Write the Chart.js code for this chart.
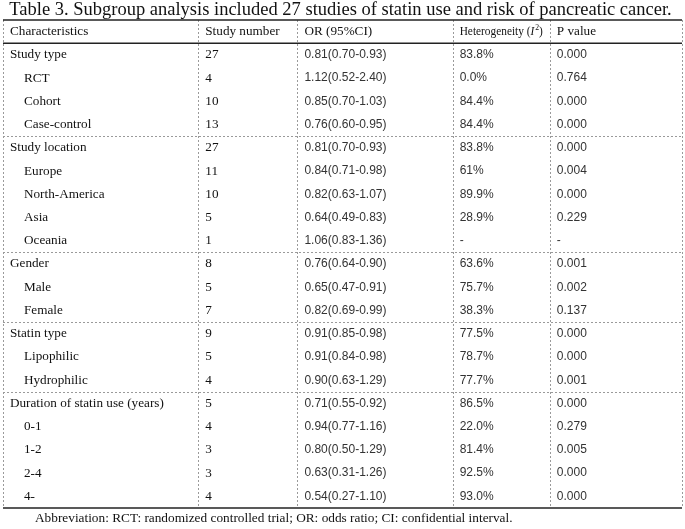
<!DOCTYPE html>
<html lang="en">
<head>
  <meta charset="UTF-8">
  <title>Table 3. Subgroup analysis</title>
  <script src="https://cdn.jsdelivr.net/npm/chart.js"></script>
  <style>
    body { margin: 0; background: #ffffff; }
    #wrap { width: 685px; height: 529px; }
  </style>
</head>
<body>
  <div id="wrap"><canvas id="tableChart"></canvas></div>

  <script>
    // Table content
    const titleText = 'Table 3. Subgroup analysis included 27 studies of statin use and risk of pancreatic cancer.';
    const footnote = 'Abbreviation: RCT: randomized controlled trial; OR: odds ratio; CI: confidential interval.';
    const headers = ['Characteristics', 'Study number', 'OR (95%CI)', 'Heterogeneity (I2)', 'P value'];
    const colWidths = [195, 99, 155, 97, 132];

    const characteristics = ['Study type', 'RCT', 'Cohort', 'Case-control',
      'Study location', 'Europe', 'North-America', 'Asia', 'Oceania',
      'Gender', 'Male', 'Female',
      'Statin type', 'Lipophilic', 'Hydrophilic',
      'Duration of statin use (years)', '0-1', '1-2', '2-4', '4-'];
    const isGroup = [1, 0, 0, 0, 1, 0, 0, 0, 0, 1, 0, 0, 1, 0, 0, 1, 0, 0, 0, 0];
    const studyNumber = ['27', '4', '10', '13', '27', '11', '10', '5', '1', '8', '5', '7', '9', '5', '4', '5', '4', '3', '3', '4'];
    const orCI = ['0.81(0.70-0.93)', '1.12(0.52-2.40)', '0.85(0.70-1.03)', '0.76(0.60-0.95)',
      '0.81(0.70-0.93)', '0.84(0.71-0.98)', '0.82(0.63-1.07)', '0.64(0.49-0.83)', '1.06(0.83-1.36)',
      '0.76(0.64-0.90)', '0.65(0.47-0.91)', '0.82(0.69-0.99)',
      '0.91(0.85-0.98)', '0.91(0.84-0.98)', '0.90(0.63-1.29)',
      '0.71(0.55-0.92)', '0.94(0.77-1.16)', '0.80(0.50-1.29)', '0.63(0.31-1.26)', '0.54(0.27-1.10)'];
    const heterogeneity = ['83.8%', '0.0%', '84.4%', '84.4%',
      '83.8%', '61%', '89.9%', '28.9%', '-',
      '63.6%', '75.7%', '38.3%',
      '77.5%', '78.7%', '77.7%',
      '86.5%', '22.0%', '81.4%', '92.5%', '93.0%'];
    const pValue = ['0.000', '0.764', '0.000', '0.000',
      '0.000', '0.004', '0.000', '0.229', '-',
      '0.001', '0.002', '0.137',
      '0.000', '0.000', '0.001',
      '0.000', '0.279', '0.005', '0.000', '0.000'];

    const serif = '"Liberation Serif", "DejaVu Serif", serif';
    const sans = '"Liberation Sans", Arial, sans-serif';

    // column start positions on the x scale
    const colStarts = [];
    let acc = 0;
    colWidths.forEach(w => { colStarts.push(acc); acc += w; });
    const totalWidth = acc;

    const rowLabels = ['header'].concat(characteristics.map((c, i) => 'r' + i));
    const columns = [characteristics, studyNumber, orCI, heterogeneity, pValue];

    // one dataset per column, one point per cell
    const datasets = columns.map((col, j) => ({
      label: headers[j],
      data: [{ x: colStarts[j], y: 'header', text: headers[j], head: true }].concat(
        col.map((t, i) => ({ x: colStarts[j], y: 'r' + i, text: t, indent: j === 0 && !isGroup[i] }))
      ),
      pointRadius: 0,
      showLine: false
    }));

    const tablePlugin = {
      id: 'tablePlugin',
      afterDraw(chart) {
        const ctx = chart.ctx;
        const area = chart.chartArea;
        const x = chart.scales.x;
        const y = chart.scales.y;
        const rowH = y.getPixelForValue(1) - y.getPixelForValue(0);
        ctx.save();

        // title and footnote
        ctx.fillStyle = '#111';
        ctx.textBaseline = 'middle';
        ctx.font = '18.5px ' + serif;
        ctx.textAlign = 'center';
        ctx.fillText(titleText, chart.width / 2 - 2, area.top - 10);
        ctx.font = '13.3px ' + serif;
        ctx.textAlign = 'left';
        ctx.fillText(footnote, area.left + 32, area.bottom + 11);

        // dotted grid lines
        ctx.strokeStyle = '#9a9a9a';
        ctx.lineWidth = 1;
        ctx.setLineDash([2, 2]);
        const edges = colStarts.concat([totalWidth]);
        edges.forEach(v => {
          const px = Math.round(x.getPixelForValue(v)) + 0.5;
          ctx.beginPath();
          ctx.moveTo(px, area.top);
          ctx.lineTo(px, area.bottom);
          ctx.stroke();
        });
        isGroup.forEach((g, i) => {
          if (!g || i === 0) return;
          const py = Math.round(y.getPixelForValue(i + 1) - rowH / 2) + 0.5;
          ctx.beginPath();
          ctx.moveTo(area.left, py);
          ctx.lineTo(area.right, py);
          ctx.stroke();
        });

        // solid rules
        ctx.setLineDash([]);
        ctx.strokeStyle = '#222';
        ctx.lineWidth = 1.3;
        const headBottom = y.getPixelForValue(0) + rowH / 2;
        [area.top, headBottom, area.bottom].forEach(py => {
          ctx.beginPath();
          ctx.moveTo(area.left, py);
          ctx.lineTo(area.right, py);
          ctx.stroke();
        });

        // cell text
        chart.data.datasets.forEach((ds, j) => {
          const meta = chart.getDatasetMeta(j);
          meta.data.forEach((pt, i) => {
            const cell = ds.data[i];
            const useSans = !cell.head && j >= 2;
            ctx.font = useSans ? '12px ' + sans : '13.2px ' + serif;
            ctx.fillStyle = useSans ? '#333' : '#111';
            ctx.textAlign = 'left';
            let px = pt.x + (cell.indent ? 21 : 7);
            if (cell.head && j === 3) {
              // Heterogeneity (I²) with italic I and superscript 2, narrowed to fit the column
              ctx.save();
              ctx.translate(px, pt.y);
              ctx.scale(0.86, 1);
              let cx = 0;
              const a = 'Heterogeneity (';
              ctx.fillText(a, cx, 0);
              cx += ctx.measureText(a).width;
              ctx.font = 'italic 13.2px ' + serif;
              ctx.fillText('I', cx, 0);
              cx += ctx.measureText('I').width + 1;
              ctx.font = '9px ' + serif;
              ctx.fillText('2', cx, -4);
              cx += ctx.measureText('2').width;
              ctx.font = '13.2px ' + serif;
              ctx.fillText(')', cx, 0);
              ctx.restore();
            } else {
              ctx.fillText(cell.text, px, pt.y);
            }
          });
        });
        ctx.restore();
      }
    };

    new Chart(document.getElementById('tableChart'), {
      type: 'scatter',
      data: { datasets: datasets },
      options: {
        responsive: true,
        maintainAspectRatio: false,
        animation: false,
        layout: { padding: { left: 3, right: 3, top: 20, bottom: 21 } },
        plugins: { legend: { display: false }, tooltip: { enabled: false } },
        scales: {
          x: { type: 'linear', min: 0, max: totalWidth, display: false },
          y: { type: 'category', labels: rowLabels, offset: true, display: false }
        }
      },
      plugins: [tablePlugin]
    });
  </script>
</body>
</html>
